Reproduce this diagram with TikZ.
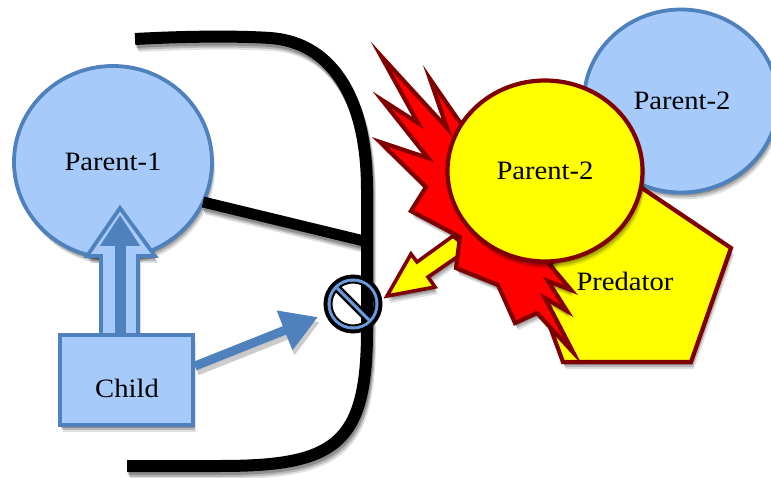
\documentclass[tikz,border=0pt]{standalone}
\usepackage{fontspec}
\setmainfont[FakeStretch=1.08]{Liberation Serif}
\usetikzlibrary{shapes.geometric,shadows,arrows.meta,calc}
\definecolor{bfill}{HTML}{A6CBFB}
\definecolor{bline}{HTML}{4F81BD}
\definecolor{dred}{HTML}{800000}
\definecolor{ringblue}{HTML}{6A9BE0}
\definecolor{hotred}{RGB}{255,0,0}
\definecolor{hotyellow}{RGB}{255,255,0}
\tikzset{
 soft/.style={drop shadow={shadow xshift=1pt,shadow yshift=-3pt,opacity=.22,fill=black},
              drop shadow={shadow xshift=2pt,shadow yshift=-5pt,opacity=.18,fill=black},
              drop shadow={shadow xshift=3pt,shadow yshift=-7pt,opacity=.12,fill=black}},
 bluebox/.style={draw=bline,fill=bfill,line width=3.8pt,soft},
 warn/.style={draw=dred,line width=4.2pt,line join=miter,miter limit=14,soft},
 label/.style={font=\fontsize{26.5}{28}\selectfont,text=black,inner sep=0pt},
 wall/.style={draw=black,line width=12pt},
}
\newcommand\softcopies[2]{%
  \begin{scope}[opacity=.22]\draw[draw=black,line width=#1,transform canvas={xshift=1pt,yshift=-3pt}] #2;\end{scope}
  \begin{scope}[opacity=.18]\draw[draw=black,line width=#1,transform canvas={xshift=2pt,yshift=-5pt}] #2;\end{scope}
  \begin{scope}[opacity=.12]\draw[draw=black,line width=#1,transform canvas={xshift=3pt,yshift=-7pt}] #2;\end{scope}
}
\begin{document}
\begin{tikzpicture}[x=1pt,y=-1pt]
\useasboundingbox (0,0) rectangle (771,478);
% Black barrier
\coordinate (wtop) at (135,39);
\coordinate (wbot) at (127,466);
\coordinate (wjoin) at (364,241);
\newcommand\wallpath{(wtop) .. controls (190,36) and (240,36) .. (270,38)
  .. controls (328,42) and (367,92) .. (367,190)
  -- (367,330) .. controls (367,445) and (335,466) .. (220,466) -- (wbot)}
\softcopies{12pt}{\wallpath}
\draw[wall] \wallpath;
% Parent-2 (blue)
\node[ellipse,bluebox,minimum width=194pt,minimum height=183pt,inner sep=0pt] (ptwob) at (681,101) {};
\node[label] (ptwobt) at (682,101) {Parent-2};
% Predator pentagon
\coordinate (pa) at (627,178);
\coordinate (pb) at (731,248);
\coordinate (pc) at (691,362);
\coordinate (pd) at (563,362);
\coordinate (pe) at (521,248);
\draw[warn,fill=hotyellow] (pa) -- (pb) -- (pc) -- (pd) -- (pe) -- cycle;
\node[label] (predt) at (625,281) {Predator};
% Yellow arrow
\coordinate (at) at (387,296);
\draw[warn,fill=hotyellow,line width=3.6pt] (at) -- (411,254) -- (417,262) -- (453,236) -- (470,250) -- (457,257) -- (428,277) -- (435,287) -- cycle;
% Explosion
\draw[warn,fill=hotred] (500,150) -- (459,121) -- (430,79) -- (447,128) -- (381,56) -- (418,123) -- (382,100)
 -- (428,158) -- (380,142) -- (426,187) -- (411,211) -- (460,237) -- (456,268) -- (498,285) -- (515,323)
 -- (537,313) -- (573,352) -- (545,298) -- (567,311) -- (548,281) -- (571,290) -- (550,265) -- (600,200) -- cycle;
% Parent-2 yellow
\node[ellipse,warn,fill=hotyellow,minimum width=195pt,minimum height=181pt,inner sep=0pt] (ptwoy) at (545,171) {};
\node[label] (ptwoyt) at (545,171) {Parent-2};
% Parent-1
\node[ellipse,bluebox,minimum width=198pt,minimum height=192pt,inner sep=0pt] (pone) at (113,162) {};
\node[label] (ponet) at (113,162) {Parent-1};
% link Parent-1 to barrier
\coordinate (plink) at (203,202);
\softcopies{11pt}{(plink) -- (wjoin)}
\draw[draw=black,line width=11pt] (plink) -- (wjoin);
% Open arrow
\draw[bluebox,fill=bfill,miter limit=8] (101,336) -- (101,256) -- (87,256) -- (120,208) -- (155,256) -- (138,256) -- (138,336) -- cycle;
% Child
\node[rectangle,bluebox,minimum width=133pt,minimum height=90pt,inner sep=0pt] (child) at (126.5,380) {};
\node[label] (childt) at (127,388) {Child};
% dark inner arrow
\coordinate (ia) at (120,333);
\coordinate (ib) at (120,215);
\draw[draw=bline,line width=11pt,-{Triangle[length=31pt,width=38pt]}] (ia) -- (ib);
% Blue arrow
\coordinate (ba) at (195,366);
\coordinate (bb) at (318,317);
\begin{scope}[opacity=.2]
\draw[draw=black,fill=black,line width=9pt,transform canvas={xshift=2pt,yshift=-5pt},-{Triangle[length=36pt,width=40pt]}] (ba) -- (bb);
\end{scope}
\draw[draw=bline,line width=9pt,-{Triangle[length=36pt,width=40pt]}] (ba) -- (bb);
% Prohibition sign
\coordinate (sc) at (353,304);
\draw[black,line width=5pt] (sc) circle[radius=27pt];
\draw[ringblue,line width=3pt] (sc) circle[radius=24pt];
\draw[black,line width=2pt] (sc) circle[radius=21.5pt];
\draw[black,line width=8pt] ($(sc)+(-15,-15)$) -- ($(sc)+(15,15)$);
\draw[ringblue,line width=3pt] ($(sc)+(-16,-16)$) -- ($(sc)+(16,16)$);
\end{tikzpicture}
\end{document}
